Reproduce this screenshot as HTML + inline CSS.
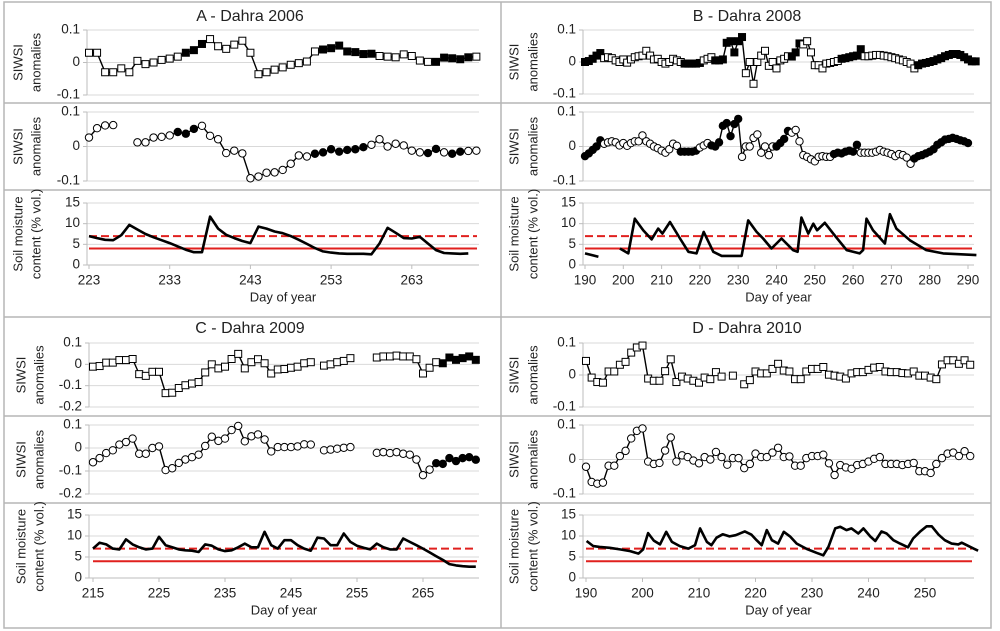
<!DOCTYPE html>
<html><head><meta charset="utf-8"><title>SIWSI anomalies and soil moisture - Dahra</title>
<style>
html,body{margin:0;padding:0;background:#fff;}
svg{display:block;font-family:"Liberation Sans",Arial,sans-serif;}
</style></head>
<body>
<svg id="chart" width="1000" height="631" viewBox="0 0 1000 631" xmlns="http://www.w3.org/2000/svg">
<rect x="0" y="0" width="1000" height="631" fill="#fff"/>
<g stroke="#b5b5b5" stroke-width="1.5" fill="none">
<rect x="4" y="2" width="987" height="626"/>
<line x1="501" y1="2" x2="501" y2="628"/>
<line x1="4" y1="317" x2="991" y2="317"/>
</g>
</svg>
<script>
// ---------- Panel A (2006) ----------
const A_days0 = 223;
const A_top = [0.03,0.03,-0.03,-0.03,-0.018,-0.03,0.005,-0.005,0,0.008,0.012,0.018,0.03,0.038,0.057,0.072,0.05,0.042,0.055,0.067,0.03,-0.036,-0.03,-0.022,-0.015,-0.007,-0.002,0.003,0.034,0.04,0.044,0.052,0.034,0.032,0.026,0.027,0.02,0.018,0.016,0.025,0.02,0.006,0.002,0.002,0.015,0.013,0.01,0.016,0.018];
const A_topFilled = [0,0,0,0,0,0,0,0,0,0,0,0,1,1,1,0,0,0,0,0,0,0,0,0,0,0,0,0,0,1,1,1,1,1,1,1,0,0,0,0,0,0,0,1,1,1,1,1,0];
const A_mid = [0.026,0.053,0.061,0.062,null,null,0.012,0.012,0.026,0.028,0.032,0.042,0.037,0.051,0.06,0.031,0.021,-0.019,-0.012,-0.02,-0.092,-0.087,-0.076,-0.075,-0.068,-0.05,-0.026,-0.029,-0.021,-0.017,-0.008,-0.015,-0.01,-0.008,-0.002,0.005,0.021,0,0.008,0.003,-0.012,-0.017,-0.019,-0.007,-0.017,-0.021,-0.015,-0.013,-0.012];
const A_midFilled = [0,0,0,0,0,0,0,0,0,0,0,1,1,1,0,0,0,0,0,0,0,0,0,0,0,0,0,0,1,1,1,1,1,1,1,0,0,0,0,0,0,0,1,1,0,1,1,0,0];
const A_soilDays = [223,224,225,226,227,228,229,230,231,232,233,234,235,236,237,238,239,240,241,242,243,244,245,246,247,248,249,250,251,252,253,254,255,256,257,258,259,260,261,262,263,264,265,266,267,268,269,270];
const A_soil = [7,6.5,6.1,6,7.2,9.7,8.6,7.5,6.7,6,5.3,4.5,3.7,3.1,3.1,11.7,8.8,7.3,6.5,5.8,5.3,9.3,8.8,8.1,7.7,7,6.1,5.1,4.1,3.3,3,2.8,2.7,2.7,2.7,2.6,5.2,9,7.8,6.5,6.4,6.8,5.2,3.6,2.9,2.8,2.7,2.8];
const A_xticks = [223,233,243,253,263];

// ---------- Panel B (2008) ----------
const B_days0 = 190;
const B_top = [0,0.003,0.01,0.02,0.028,0.012,0.015,0.012,0.005,0,0.008,-0.002,0.008,0.015,0.018,0.02,0.035,0.02,0.008,0.01,0,-0.005,0,0.01,0.005,0,-0.005,-0.005,-0.005,-0.005,-0.003,0.005,0.01,0.015,0.005,0.005,0.008,0.06,0.065,0.03,0.065,0.078,-0.035,0,-0.068,0,0.02,0.035,-0.012,0,-0.02,0.005,0.01,0.018,0.017,0.03,0.058,0.055,0.065,0.03,-0.01,-0.01,-0.02,-0.005,-0.003,0,0.003,0.01,0.012,0.015,0.018,0.02,0.04,0.018,0.018,0.02,0.022,0.022,0.02,0.018,0.015,0.012,0.008,0.005,0,-0.005,-0.02,-0.01,-0.005,-0.003,0,0.003,0.008,0.012,0.018,0.022,0.025,0.025,0.022,0.015,0.008,0.002,0.002];
const B_topFilled = [1,1,1,1,1,0,0,0,0,0,0,0,0,0,0,0,0,0,0,0,0,0,0,0,0,0,1,1,1,1,1,0,0,0,1,1,1,1,1,1,1,1,0,0,0,0,0,0,0,0,0,0,0,0,1,1,1,0,0,0,0,0,0,0,0,0,0,1,1,1,1,1,1,0,0,0,0,0,0,0,0,0,0,0,0,0,0,1,1,1,1,1,1,1,1,1,1,1,1,1,1,1,1];
const B_mid = [-0.028,-0.02,-0.01,0,0.018,0.008,0.012,0.015,0.012,0.003,0.01,0.002,0.01,0.015,0.015,0.032,0.015,0.008,0,-0.005,-0.012,-0.018,-0.008,0.008,0.002,-0.015,-0.015,-0.015,-0.015,-0.012,-0.003,0.003,0.01,0.003,0,0.012,0.06,0.068,0.03,0.065,0.08,-0.03,0,0,0.025,0.035,-0.018,0,-0.025,0,0,0.01,0.022,0.045,0.04,0.048,0.015,-0.025,-0.03,-0.037,-0.043,-0.03,-0.028,-0.03,-0.03,-0.022,-0.018,-0.02,-0.015,-0.012,-0.015,0.005,-0.018,-0.018,-0.018,-0.018,-0.015,-0.01,-0.015,-0.018,-0.022,-0.028,-0.022,-0.025,-0.032,-0.05,-0.035,-0.028,-0.025,-0.02,-0.015,-0.008,0.005,0.012,0.02,0.022,0.025,0.022,0.018,0.015,0.01];
const B_midFilled = [1,1,1,1,1,0,0,0,0,0,0,0,0,0,0,0,0,0,0,0,0,0,0,0,0,1,1,1,1,1,0,0,0,1,1,1,1,1,1,1,1,0,0,0,0,0,0,0,0,0,1,1,1,1,0,0,0,0,0,0,0,0,0,0,0,1,1,1,1,1,1,1,0,0,0,0,0,0,0,0,0,0,0,0,0,0,1,1,1,1,1,1,1,1,1,1,1,1,1,1,1];
const B_soilDays = [190,193.5,null,199.1,201.3,203,205.2,207.4,209.1,210.2,212.2,214.8,217,219.1,221,223.5,225.7,230.9,232.6,234.8,236.5,238.7,241.3,244.3,245.5,246.5,248.3,249.6,250.6,252.6,254.8,258.3,261.7,262.6,263.5,265.2,268.3,269.6,271.3,274.8,279.1,283.5,292.2];
const B_soil = [2.8,2.0,null,4.0,2.8,11.2,8.4,6.2,8.8,7.6,10.4,6.4,3.2,2.8,8.0,3.2,2.2,2.2,10.8,8.0,6.4,4.0,6.4,3.6,3.2,11.5,7.6,10.0,8.4,10.2,7.6,3.6,2.8,3.6,11.2,8.4,5.2,12.3,8.8,6.0,3.6,2.8,2.4];
const B_xticks = [190,200,210,220,230,240,250,260,270,280,290];

// ---------- Panel C (2009) ----------
const C_days0 = 215;
const C_top = [-0.011,-0.008,0.008,0.008,0.02,0.02,0.025,-0.046,-0.054,-0.035,-0.035,-0.135,-0.133,-0.111,-0.098,-0.09,-0.083,-0.038,0,-0.019,-0.011,0.025,0.049,-0.019,0.01,0.024,0.005,-0.043,-0.024,-0.022,-0.016,-0.011,0.005,0.01,null,-0.006,0,0.01,0.016,0.029,null,null,null,0.032,0.037,0.037,0.041,0.037,0.037,0.024,-0.043,-0.016,0.01,0.005,0.032,0.021,0.029,0.037,0.021];
const C_topFilled = [0,0,0,0,0,0,0,0,0,0,0,0,0,0,0,0,0,0,0,0,0,0,0,0,0,0,0,0,0,0,0,0,0,0,0,0,0,0,0,0,0,0,0,0,0,0,0,0,0,0,0,0,0,1,1,1,1,1,1];
const C_mid = [-0.062,-0.044,-0.022,-0.01,0.015,0.026,0.041,-0.025,-0.025,0,0.007,-0.096,-0.088,-0.065,-0.05,-0.04,-0.029,0.009,0.049,0.031,0.041,0.078,0.096,0.029,0.051,0.059,0.037,-0.015,0.004,0.004,0.004,0.007,0.016,0.015,null,-0.01,-0.007,-0.003,0.001,0.004,null,null,null,-0.021,-0.018,-0.022,-0.018,-0.025,-0.029,-0.05,-0.118,-0.094,-0.066,-0.069,-0.044,-0.057,-0.044,-0.04,-0.051];
const C_midFilled = [0,0,0,0,0,0,0,0,0,0,0,0,0,0,0,0,0,0,0,0,0,0,0,0,0,0,0,0,0,0,0,0,0,0,0,0,0,0,0,0,0,0,0,0,0,0,0,0,0,0,0,0,1,1,1,1,1,1,1];
const C_soilDays = [215,216,217,218,219,220,221,222,223,224,225,226,227,228,229,230,231,232,233,234,235,236,237,238,239,240,241,242,243,244,245,246,247,248,249,250,251,252,253,254,255,256,257,258,259,260,261,262,263,264,265,266,267,268,269,270,271,272,273];
const C_soil = [7,8.4,8,7,6.8,9.2,8,7.3,6.8,7,9.8,7.8,7.3,6.8,6.6,6.5,6.2,8,7.7,6.8,6.4,6.6,7.3,8.2,7.3,7.3,11,7.8,7,9,9,7.8,7,6.5,9.6,9.4,7.8,7.8,10.6,8.6,7.7,7.2,6.8,8.2,7.3,6.8,6.8,9.4,8.6,7.8,7,6.1,5.2,4.3,3.3,3,2.8,2.7,2.7];
const C_xticks = [215,225,235,245,255,265];

// ---------- Panel D (2010) ----------
const D_days0 = 190;
const D_top = [0.044,-0.008,-0.022,-0.024,0.011,0.011,0.032,0.041,0.07,0.086,0.092,-0.011,-0.018,-0.018,0.012,0.049,-0.022,-0.005,-0.011,-0.018,-0.024,-0.008,-0.013,0.009,-0.005,null,-0.002,null,-0.029,-0.016,0.011,0.005,0.005,0.019,0.035,0.014,0.011,-0.013,-0.013,0.011,0.019,0.019,0.025,0.001,-0.002,-0.005,-0.011,0.005,0.009,0.009,0.016,0.023,0.025,0.011,0.009,0.009,0.006,0.005,0.011,-0.002,-0.002,-0.008,-0.013,0.033,0.046,0.046,0.035,0.046,0.032];
const D_mid = [-0.021,-0.065,-0.07,-0.067,-0.018,-0.018,0.01,0.025,0.061,0.083,0.09,-0.006,-0.013,-0.01,0.026,0.064,-0.006,0.012,0.007,-0.003,-0.011,0.007,0,0.022,0.007,-0.015,0.004,0.004,-0.025,-0.013,0.017,0.007,0.007,0.02,0.034,0.007,0.009,-0.018,-0.018,0.004,0.01,0.01,0.014,-0.011,-0.045,-0.016,-0.023,-0.027,-0.016,-0.013,-0.006,0.002,0.007,-0.013,-0.013,-0.013,-0.016,-0.013,-0.01,-0.034,-0.034,-0.039,-0.013,0.004,0.017,0.02,0.01,0.024,0.01];
const D_soilDays = [190.1,191.3,192.4,194.2,196,197.8,199.3,200.1,201,202,203.1,204.2,205.2,206.6,208.1,209.3,210.2,211.4,212.2,213.1,214.2,215.4,216.5,218.1,219.3,220.2,221.1,222,222.9,224,225,226.1,227.3,229.1,230.8,232,232.9,234.1,235,236.1,237,238.2,239.1,240.3,241.2,242.3,243.2,244.4,245.6,247,247.9,249.1,250.3,251.2,252.4,253.5,254.7,255.9,256.5,257.4,258.6,259.4];
const D_soil = [8.8,7.6,7.4,7.2,6.8,6.4,5.8,6.8,10.7,8.9,8,11,8.6,7.6,7,7.8,11.8,8.6,7.8,9.6,10.4,9.9,10.2,11.1,10.3,9,7.8,11.4,9,8.2,11,9.9,8.2,6.9,6,5.4,7.4,11.8,12.2,11.4,11.8,10.6,11.8,9.9,8.8,11.1,10.6,9,8.2,7.3,9.4,11,12.3,12.3,10.3,9,8.2,8,8.4,7.8,7,6.5];
const D_xticks = [190,200,210,220,230,240,250];

const SIWSI_TICKS_AB = [0.1,0,-0.1];
const SIWSI_TICKS_C = [0.1,0,-0.1,-0.2];
const SOIL_TICKS = [0,5,10,15];
const THRESH_DASHED = 7;
const THRESH_SOLID = 4;

const NS = "http://www.w3.org/2000/svg";
const svg = document.getElementById('chart');
function mk(tag, attrs, parent){
  const e = document.createElementNS(NS, tag);
  for (const k in attrs) e.setAttribute(k, attrs[k]);
  (parent||svg).appendChild(e);
  return e;
}
function fmt(v){ return String(v); }

function panel(p){
  const g = mk('g', {});
  
  
  const xs = d => p.x0 + (d - p.d0) * p.k;
  const t = mk('text', {x:p.cx, y:p.titleY, 'text-anchor':'middle', 'dominant-baseline':'middle', 'font-size':16, fill:'#222'}, g);
  t.textContent = p.title;
  
  
  p.seps.forEach(y => {
    const l = mk('line', {x1:p.fx1, x2:p.fx2, y1:y, y2:y, stroke:'#b5b5b5', 'stroke-width':1.5}, g);
    
    
  });
  p.subs.forEach((s, si) => {
    const sg = mk('g', {}, g);
    
    
    const ys = v => s.bot - (v - s.min) / (s.max - s.min) * (s.bot - s.top);
    s.ticks.forEach(v => {
      const y = ys(v);
      const gl = mk('line', {x1:p.left, x2:p.right, y1:y, y2:y, stroke: (s.soil && v===0) ? '#bdbdbd' : '#d9d9d9', 'stroke-width':1}, sg);
      
      
      mk('line', {x1:p.left-4, x2:p.left, y1:y, y2:y, stroke:'#bdbdbd', 'stroke-width':1}, sg);
      const tl = mk('text', {x:p.left-7, y:y, 'text-anchor':'end', 'dominant-baseline':'middle', 'font-size':13.5, fill:'#222'}, sg);
      tl.textContent = fmt(v);
      
      
    });
    mk('line', {x1:p.left, x2:p.left, y1:ys(s.max), y2:ys(s.min), stroke:'#bdbdbd', 'stroke-width':1}, sg);
    const cy = (s.top + s.bot) / 2;
    s.label.forEach((txt, li) => {
      const lx = p.labX[li];
      const yl = mk('text', {x:lx, y:cy, transform:'rotate(-90 '+lx+' '+cy+')', 'text-anchor':'middle', 'dominant-baseline':'middle', 'font-size':13, fill:'#222'}, sg);
      yl.textContent = txt;
      
      
    });
    if (s.soil){
      const dl = mk('line', {x1:xs(p.d0), x2:p.right-2, y1:ys(THRESH_DASHED), y2:ys(THRESH_DASHED), stroke:'#e0201e', 'stroke-width':2, 'stroke-dasharray':'8,4'}, sg);
      
      
      const sl = mk('line', {x1:xs(p.d0), x2:p.right-2, y1:ys(THRESH_SOLID), y2:ys(THRESH_SOLID), stroke:'#e0201e', 'stroke-width':2}, sg);
      
      
      let pts = [];
      const flush = () => {
        if (pts.length > 1){
          const pl = mk('polyline', {points:pts.join(' '), fill:'none', stroke:'#000', 'stroke-width':2.6, 'stroke-linejoin':'round'}, sg);
          
          
        }
        pts = [];
      };
      s.days.forEach((d, i) => {
        const v = s.vals[i];
        if (d === null || v === null) { flush(); return; }
        pts.push(xs(d).toFixed(1) + ',' + ys(v).toFixed(1));
      });
      flush();
      p.xticks.forEach(d => {
        const x = xs(d);
        mk('line', {x1:x, x2:x, y1:ys(0), y2:ys(0)+4, stroke:'#bdbdbd', 'stroke-width':1}, sg);
        const xl = mk('text', {x:x, y:p.xlabY, 'text-anchor':'middle', 'dominant-baseline':'middle', 'font-size':13.5, fill:'#222'}, sg);
        xl.textContent = d;
        
        
      });
      const xt = mk('text', {x:(p.left+p.right)/2, y:p.xtitleY, 'text-anchor':'middle', 'dominant-baseline':'middle', 'font-size':13, fill:'#222'}, sg);
      xt.textContent = 'Day of year';
      
      
    } else {
      let pts = [];
      const flush = () => {
        if (pts.length > 1){
          const pl = mk('polyline', {points:pts.join(' '), fill:'none', stroke:'#000', 'stroke-width':1.4}, sg);
          
          
        }
        pts = [];
      };
      s.vals.forEach((v, i) => {
        if (v === null) { flush(); return; }
        pts.push(xs(p.d0 + i).toFixed(1) + ',' + ys(v).toFixed(1));
      });
      flush();
      s.vals.forEach((v, i) => {
        if (v === null) return;
        const x = xs(p.d0 + i), y = ys(v);
        const filled = s.filled && s.filled[i] ? '#000' : '#fff';
        let m;
        if (s.shape === 'square') m = mk('rect', {x:x-3.5, y:y-3.5, width:7, height:7, fill:filled, stroke:'#000', 'stroke-width':1}, sg);
        else m = mk('circle', {cx:x, cy:y, r:3.7, fill:filled, stroke:'#000', 'stroke-width':1}, sg);
        
        
      });
    }
  });
}

const labSiwsi = ['SIWSI','anomalies'];
const labSoil = ['Soil moisture','content (% vol.)'];

panel({id:'a-dahra-2006', title:'A - Dahra 2006', cx:250, titleY:17, fx1:4, fx2:501, seps:[103,190],
  left:87, right:479, x0:89, d0:A_days0, k:8.07, labX:[19,37], xticks:A_xticks, xlabY:281, xtitleY:298,
  subs:[
    {name:'siwsi-square-subplot', top:30, bot:95, min:-0.1, max:0.1, ticks:SIWSI_TICKS_AB, label:labSiwsi, shape:'square', vals:A_top, filled:A_topFilled},
    {name:'siwsi-circle-subplot', top:112, bot:181, min:-0.1, max:0.1, ticks:SIWSI_TICKS_AB, label:labSiwsi, shape:'circle', vals:A_mid, filled:A_midFilled},
    {name:'soil-moisture-subplot', top:203, bot:265, min:0, max:15, ticks:SOIL_TICKS, label:labSoil, soil:true, days:A_soilDays, vals:A_soil}
  ]});
panel({id:'b-dahra-2008', title:'B - Dahra 2008', cx:747, titleY:17, fx1:501, fx2:991, seps:[103,190],
  left:583, right:974, x0:585, d0:B_days0, k:3.83, labX:[515,534], xticks:B_xticks, xlabY:281, xtitleY:298,
  subs:[
    {name:'siwsi-square-subplot', top:30, bot:94, min:-0.1, max:0.1, ticks:SIWSI_TICKS_AB, label:labSiwsi, shape:'square', vals:B_top, filled:B_topFilled},
    {name:'siwsi-circle-subplot', top:112, bot:181, min:-0.1, max:0.1, ticks:SIWSI_TICKS_AB, label:labSiwsi, shape:'circle', vals:B_mid, filled:B_midFilled},
    {name:'soil-moisture-subplot', top:203, bot:265, min:0, max:15, ticks:SOIL_TICKS, label:labSoil, soil:true, days:B_soilDays, vals:B_soil}
  ]});
panel({id:'c-dahra-2009', title:'C - Dahra 2009', cx:250, titleY:329, fx1:4, fx2:501, seps:[416,503],
  left:89, right:479, x0:93, d0:C_days0, k:6.6, labX:[22,40], xticks:C_xticks, xlabY:594, xtitleY:611,
  subs:[
    {name:'siwsi-square-subplot', top:343, bot:407, min:-0.2, max:0.1, ticks:SIWSI_TICKS_C, label:labSiwsi, shape:'square', vals:C_top, filled:C_topFilled},
    {name:'siwsi-circle-subplot', top:425, bot:494, min:-0.2, max:0.1, ticks:SIWSI_TICKS_C, label:labSiwsi, shape:'circle', vals:C_mid, filled:C_midFilled},
    {name:'soil-moisture-subplot', top:515, bot:578, min:0, max:15, ticks:SOIL_TICKS, label:labSoil, soil:true, days:C_soilDays, vals:C_soil}
  ]});
panel({id:'d-dahra-2010', title:'D - Dahra 2010', cx:747, titleY:329, fx1:501, fx2:991, seps:[416,503],
  left:583, right:974, x0:586, d0:D_days0, k:5.65, labX:[515,534], xticks:D_xticks, xlabY:594, xtitleY:611,
  subs:[
    {name:'siwsi-square-subplot', top:343, bot:407, min:-0.1, max:0.1, ticks:SIWSI_TICKS_AB, label:labSiwsi, shape:'square', vals:D_top, filled:null},
    {name:'siwsi-circle-subplot', top:425, bot:494, min:-0.1, max:0.1, ticks:SIWSI_TICKS_AB, label:labSiwsi, shape:'circle', vals:D_mid, filled:null},
    {name:'soil-moisture-subplot', top:515, bot:578, min:0, max:15, ticks:SOIL_TICKS, label:labSoil, soil:true, days:D_soilDays, vals:D_soil}
  ]});
</script>
</body></html>
